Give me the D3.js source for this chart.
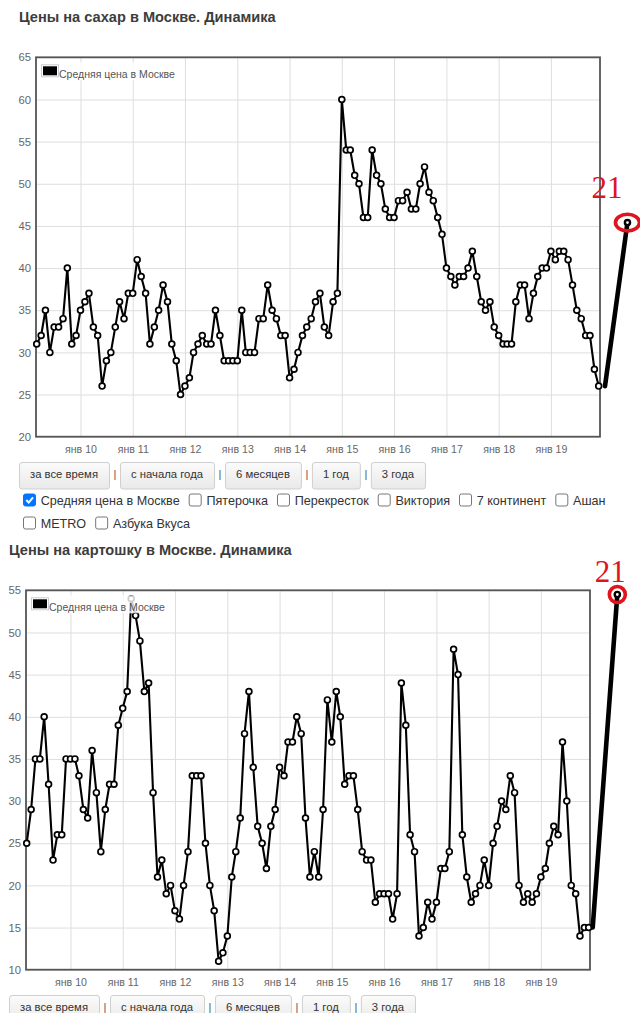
<!DOCTYPE html>
<html><head><meta charset="utf-8">
<script src="https://cdn.jsdelivr.net/npm/d3@7"></script>
<style>
html,body{margin:0;padding:0;background:#fff;}
svg{display:block;font-family:"Liberation Sans",Arial,sans-serif;}
</style></head><body>
<svg id="c" width="640" height="1013"></svg>
<script>
// ---------- DATA ----------
const months = [
 "2009-03","2009-04","2009-05","2009-06","2009-07","2009-08","2009-09","2009-10","2009-11","2009-12",
 "2010-01","2010-02","2010-03","2010-04","2010-05","2010-06","2010-07","2010-08","2010-09","2010-10","2010-11","2010-12",
 "2011-01","2011-02","2011-03","2011-04","2011-05","2011-06","2011-07","2011-08","2011-09","2011-10","2011-11","2011-12",
 "2012-01","2012-02","2012-03","2012-04","2012-05","2012-06","2012-07","2012-08","2012-09","2012-10","2012-11","2012-12",
 "2013-01","2013-02","2013-03","2013-04","2013-05","2013-06","2013-07","2013-08","2013-09","2013-10","2013-11","2013-12",
 "2014-01","2014-02","2014-03","2014-04","2014-05","2014-06","2014-07","2014-08","2014-09","2014-10","2014-11","2014-12",
 "2015-01","2015-02","2015-03","2015-04","2015-05","2015-06","2015-07","2015-08","2015-09","2015-10","2015-11","2015-12",
 "2016-01","2016-02","2016-03","2016-04","2016-05","2016-06","2016-07","2016-08","2016-09","2016-10","2016-11","2016-12",
 "2017-01","2017-02","2017-03","2017-04","2017-05","2017-06","2017-07","2017-08","2017-09","2017-10","2017-11","2017-12",
 "2018-01","2018-02","2018-03","2018-04","2018-05","2018-06","2018-07","2018-08","2018-09","2018-10","2018-11","2018-12",
 "2019-01","2019-02","2019-03","2019-04","2019-05","2019-06","2019-07","2019-08","2019-09","2019-10","2019-11","2019-12"
];
const sugarValues = [
 31,32,35,30,33,33,34,40,31,32,
 35,36,37,33,32,26,29,30,33,36,34,37,
 37,41,39,37,31,33,35,38,36,31,29,25,
 26,27,30,31,32,31,31,35,32,29,29,29,
 29,35,30,30,30,34,34,38,35,34,32,32,
 27,28,30,32,33,34,36,37,33,32,36,37,
 60,54,54,51,50,46,46,54,51,50,47,46,
 46,48,48,49,47,47,50,52,49,48,46,44,
 40,39,38,39,39,40,42,39,36,35,36,33,
 32,31,31,31,36,38,38,34,37,39,40,40,
 42,41,42,42,41,38,35,34,32,32,28,26
];
const potatoValues = [
 25,29,35,35,40,32,23,26,26,35,
 35,35,33,29,28,36,31,24,29,32,32,39,
 41,43,54,52,49,43,44,31,21,23,19,20,
 17,16,20,24,33,33,33,25,20,17,11,12,
 14,21,24,28,38,43,34,27,25,22,27,29,
 34,33,37,37,40,38,28,21,24,21,29,42,
 37,43,40,32,33,33,29,24,23,23,18,19,
 19,19,16,19,44,39,26,24,14,15,18,16,
 18,22,22,24,48,45,26,21,18,19,20,23,
 20,25,27,30,29,33,31,20,18,19,18,19,
 21,22,25,27,26,37,30,20,19,14,15,15
];
const tickMonths = ["2010-01","2011-01","2012-01","2013-01","2014-01","2015-01","2016-01","2017-01","2018-01","2019-01"];
const tickLabels = ["янв 10","янв 11","янв 12","янв 13","янв 14","янв 15","янв 16","янв 17","янв 18","янв 19"];
const sugarYTicks = [20,25,30,35,40,45,50,55,60,65];
const potatoYTicks = [10,15,20,25,30,35,40,45,50,55];
const titles = ["Цены на сахар в Москве. Динамика","Цены на картошку в Москве. Динамика"];
const legendLabel = "Средняя цена в Москве";
const buttonLabels = ["за все время","с начала года","6 месяцев","1 год","3 года"];
const storeRow1 = ["Средняя цена в Москве","Пятерочка","Перекресток","Виктория","7 континент","Ашан"];
const storeRow2 = ["METRO","Азбука Вкуса"];
const checkedStores = ["Средняя цена в Москве"];
const annotLabel = "21";
const sugarAnnotDates = ["2020-01-14","2020-06-19"];
const sugarAnnotValues = [26,45.4];
const potatoAnnotDates = ["2019-12-29","2020-06-18"];
const potatoAnnotValues = [15,54.5];

// ---------- DRAW ----------
const pm = d3.timeParse("%Y-%m"), pd = d3.timeParse("%Y-%m-%d");
const dates = months.map(pm);
const svg = d3.select("#c");
const defs = svg.append("defs");
const grad = defs.append("linearGradient").attr("id","btn").attr("x1",0).attr("x2",0).attr("y1",0).attr("y2",1);
grad.append("stop").attr("offset","0%").attr("stop-color","#fbfbfb");
grad.append("stop").attr("offset","100%").attr("stop-color","#e9e9e9");

function drawChart(o){
  const g = svg.append("g").attr("transform",`translate(${o.dx},${o.dy})`);
  const L=36, R=600, T=57.3, B=436.7;
  g.append("text").attr("x",19).attr("y",22).attr("font-size",14.6).attr("font-weight","bold")
    .attr("fill","#3d3d3d").text(o.title);

  const x = d3.scaleTime().domain([dates[0], dates[dates.length-1]]).range([L+0.7, R-1.3]);
  const y = d3.scaleLinear().domain(o.yDomain).range([B, T]);

  // grid
  const gy = g.append("g").attr("transform",`translate(${L},0)`)
    .call(d3.axisLeft(y).tickValues(o.yTicks).tickSize(-(R-L)).tickFormat(""));
  gy.select(".domain").remove();
  gy.selectAll("line").attr("stroke","#dedede");
  const gx = g.append("g").attr("transform",`translate(0,${B})`)
    .call(d3.axisBottom(x).tickValues(tickMonths.map(pm)).tickSize(-(B-T)).tickFormat(""));
  gx.select(".domain").remove();
  gx.selectAll("line").attr("stroke","#dedede");

  // tick labels
  const ly = g.append("g").attr("transform",`translate(${L},0)`)
    .call(d3.axisLeft(y).tickValues(o.yTicks).tickSize(0).tickPadding(5));
  ly.select(".domain").remove();
  ly.selectAll("text").attr("font-size",11.3).attr("fill","#666").attr("font-family",null);
  const lx = g.append("g").attr("transform",`translate(0,${B})`)
    .call(d3.axisBottom(x).tickValues(tickMonths.map(pm)).tickSize(0).tickPadding(9)
      .tickFormat((d,i)=>tickLabels[i]));
  lx.select(".domain").remove();
  lx.selectAll("text").attr("font-size",10.6).attr("fill","#666").attr("font-family",null);

  // border
  g.append("rect").attr("x",L).attr("y",T).attr("width",R-L).attr("height",B-T)
    .attr("fill","none").attr("stroke","#555").attr("stroke-width",1.8);

  // series
  const line = d3.line().x((d,i)=>x(dates[i])).y(d=>y(d));
  g.append("path").datum(o.values).attr("d",line).attr("fill","none").attr("stroke","#000").attr("stroke-width",2.1).attr("stroke-linejoin","round");
  g.append("g").selectAll("circle").data(o.values).join("circle")
    .attr("cx",(d,i)=>x(dates[i])).attr("cy",d=>y(d)).attr("r",2.9)
    .attr("fill","#fff").attr("stroke","#000").attr("stroke-width",1.7);

  // legend
  const lg = g.append("g").attr("transform",`translate(${L+5},${T+5})`);
  const lt = lg.append("text").attr("x",18).attr("y",15.5).attr("font-size",10.5).attr("fill","#555").text(legendLabel);
  const tw = lt.node().getComputedTextLength();
  lg.insert("rect","text").attr("x",0).attr("y",0).attr("width",tw+20).attr("height",18).attr("fill","#fff").attr("opacity",0.8);
  lg.insert("rect","text").attr("x",0.5).attr("y",2.5).attr("width",17).attr("height",12).attr("fill","#fff").attr("stroke","#ccc");
  lg.insert("rect","text").attr("x",2).attr("y",4).attr("width",14).attr("height",9).attr("fill","#000");

  // annotation
  const ad = o.annotDates.map(pd);
  const ap = ad.map((d,i)=>[x(d), y(o.annotValues[i])]);
  g.append("path").attr("d",d3.line()(ap)).attr("stroke","#000").attr("stroke-width",4.6).attr("stroke-linecap","round");
  const e = ap[1];
  g.append("circle").attr("cx",e[0]).attr("cy",e[1]).attr("r",2.6).attr("fill","#fff").attr("stroke","#000").attr("stroke-width",2.4);
  g.append("ellipse").attr("cx",e[0]).attr("cy",e[1]).attr("rx",o.erx).attr("ry",o.ery)
    .attr("fill","none").attr("stroke","#e0141e").attr("stroke-width",3.6);
  g.append("text").attr("x",e[0]+o.lab[0]).attr("y",e[1]+o.lab[1]).attr("text-anchor","middle")
    .attr("font-family","'Liberation Serif','Times New Roman',serif").attr("font-size",31)
    .attr("fill","#e0141e").text(annotLabel);

  // buttons
  let bx = 19;
  const by = 462, bh = 26.5;
  buttonLabels.forEach((t,i)=>{
    const bt = g.append("text").attr("y",by+16).attr("font-size",11.3).attr("fill","#333").attr("text-anchor","middle").text(t);
    const w = bt.node().getComputedTextLength()+22;
    bt.attr("x",bx+w/2);
    g.insert("rect",()=>bt.node()).attr("x",bx+0.5).attr("y",by+0.5).attr("width",w).attr("height",bh)
      .attr("rx",2.5).attr("fill","url(#btn)").attr("stroke","#cfcfcf");
    bx += w;
    if(i<buttonLabels.length-1){
      g.append("text").attr("x",bx+6).attr("y",by+15.5).attr("font-size",11).attr("fill","#555").attr("text-anchor","middle").text("|");
      bx += 11;
    }
  });

  // checkboxes (only where the page shows them)
  if(!o.showStores) return;
  function row(items, cy){
    let cx = 23;
    items.forEach(t=>{
      const on = checkedStores.includes(t);
      g.append("rect").attr("x",cx+0.5).attr("y",cy-6).attr("width",12).attr("height",12).attr("rx",2)
        .attr("fill",on?"#0075ff":"#fff").attr("stroke",on?"#0075ff":"#767676");
      if(on) g.append("path").attr("d",`M${cx+3.3},${cy} L${cx+5.7},${cy+2.6} L${cx+10},${cy-2.6}`)
        .attr("fill","none").attr("stroke","#fff").attr("stroke-width",2);
      const tt = g.append("text").attr("x",cx+17.7).attr("y",cy+4.5).attr("font-size",12.6).attr("fill","#333").text(t);
      cx += 17.7 + tt.node().getComputedTextLength() + 9;
    });
  }
  row(storeRow1, 500);
  row(storeRow2, 523);
}

drawChart({dx:0, dy:0, title:titles[0], values:sugarValues, yDomain:[20,65], yTicks:sugarYTicks,
  annotDates:sugarAnnotDates, annotValues:sugarAnnotValues, erx:12, ery:8.3, lab:[-20.5,-24.7], showStores:true});
drawChart({dx:-10, dy:533, title:titles[1], values:potatoValues, yDomain:[10,55], yTicks:potatoYTicks,
  annotDates:potatoAnnotDates, annotValues:potatoAnnotValues, erx:8, ery:8, lab:[-7,-12.3], showStores:false});
</script>
</body></html>
